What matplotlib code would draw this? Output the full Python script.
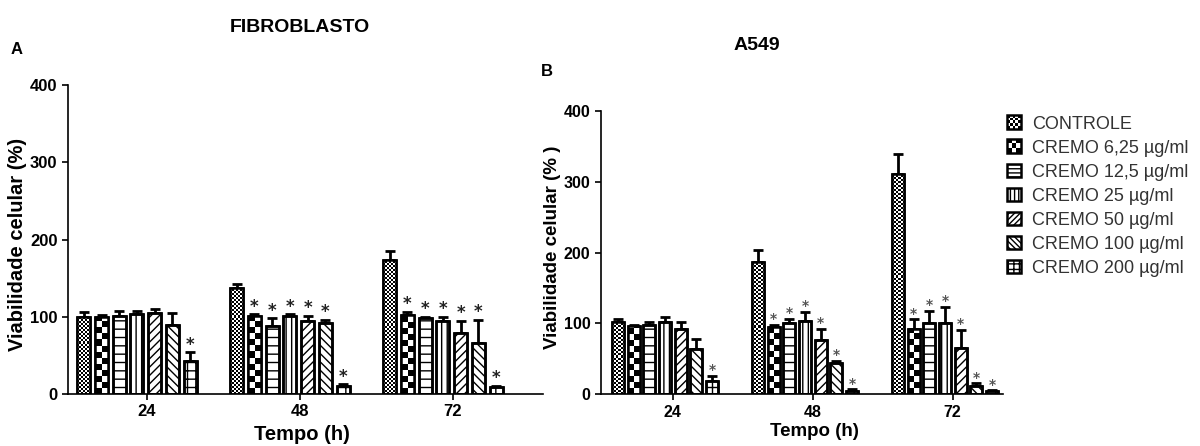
import numpy as np
import matplotlib
matplotlib.use('Agg')
import matplotlib.pyplot as plt
from matplotlib.patches import Patch, Rectangle

# tempos e tratamentos
times = ['24', '48', '72']
labels = ['CONTROLE', 'CREMO 6,25 µg/ml', 'CREMO 12,5 µg/ml', 'CREMO 25 µg/ml',
          'CREMO 50 µg/ml', 'CREMO 100 µg/ml', 'CREMO 200 µg/ml']

# FIBROBLASTO: media e erro (linha = tratamento, coluna = tempo)
fib_mean = [[100, 137.6, 173.5],
            [100, 101, 102],
            [101, 88, 98],
            [104, 101, 94.5],
            [105, 94.5, 79.4],
            [89, 91.5, 66.4],
            [43, 11, 8.6]]
fib_err = [[6.5, 4.4, 11.5],
           [2, 2, 4.5],
           [6, 10, 2],
           [4, 2, 5.5],
           [5, 6.5, 15],
           [16, 4.5, 30],
           [11, 1.5, 1.7]]

# A549
a549_mean = [[101.7, 186.4, 310.7],
             [97, 94.6, 92.2],
             [98, 101, 100.3],
             [101.7, 103.5, 100.3],
             [92.2, 76.7, 65.8],
             [64, 43.8, 11.7],
             [18.8, 5, 4.7]]
a549_err = [[4.3, 17.4, 28.3],
            [1, 3.2, 13.8],
            [3.7, 6, 17.3],
            [7.9, 13.2, 23.4],
            [9.5, 15.5, 25],
            [14, 3.2, 3.8],
            [7.5, 2, 0.8]]

# asteriscos (significancia)
stars = [[False, False, False],
         [False, True, True],
         [False, True, True],
         [False, True, True],
         [False, True, True],
         [False, True, True],
         [True, True, True]]

hatches = [None, None, '--', '|||', '////', '\\\\\\\\', '++']
checker_px = {0: 2, 1: 6}
plt.rcParams['hatch.linewidth'] = 1.0

font = 'Liberation Sans'


def draw_panel(ax, means, errs, xlim, pitch, width, tick_shift, tick_size, star_size, star_color):
    ax.set_xlim(*xlim)
    ax.set_ylim(0, 400)
    bb = ax.get_window_extent()
    xpp = (xlim[1] - xlim[0]) / bb.width
    ypp = 400 / bb.height
    x = np.arange(len(times))
    for i in range(len(labels)):
        pos = x + (i - 3) * pitch
        m = np.array(means[i], dtype=float)
        e = np.array(errs[i], dtype=float)
        ax.errorbar(pos, m, yerr=[np.zeros_like(e), e], fmt='none', ecolor='black',
                    elinewidth=2, capsize=3.5, capthick=2, zorder=1)
        bars = ax.bar(pos, m, width, color='white', edgecolor='black', linewidth=1.8,
                      hatch=hatches[i], zorder=2)
        if i in checker_px:
            cw = checker_px[i] * xpp
            ch = checker_px[i] * ypp
            for r in bars:
                ncol = max(1, int(round(r.get_width() / cw)))
                nrow = int(np.ceil(r.get_height() / ch))
                grid = np.add.outer(np.arange(nrow), np.arange(ncol)) % 2
                im = ax.imshow(grid, cmap='gray', origin='lower', aspect='auto',
                               interpolation='nearest',
                               extent=[r.get_x(), r.get_x() + r.get_width(), 0, nrow * ch],
                               zorder=2.5)
                im.set_clip_path(r)
        ax.bar(pos, m, width, fill=False, edgecolor='black', linewidth=1.8, zorder=3)
        for j in range(len(times)):
            if stars[i][j]:
                ax.annotate('*', (pos[j], m[j] + e[j]), xytext=(0, -1), textcoords='offset points',
                            ha='center', va='bottom', fontsize=star_size, color=star_color,
                            fontweight='bold')
    ax.set_xlim(*xlim)
    ax.set_ylim(0, 400)
    ax.set_xticks(x + tick_shift)
    ax.set_xticklabels(times)
    ax.set_yticks([0, 100, 200, 300, 400])
    for s in ['top', 'right']:
        ax.spines[s].set_visible(False)
    for s in ['left', 'bottom']:
        ax.spines[s].set_linewidth(1.2)
    ax.tick_params(length=4, width=1.2, direction='out')
    for t in ax.get_xticklabels() + ax.get_yticklabels():
        t.set_family(font)
        t.set_fontweight('bold')
        t.set_fontsize(tick_size)


fig = plt.figure(figsize=(12, 4.46), dpi=100)
ax1 = fig.add_axes([68 / 1200, 1 - 394 / 446, 475 / 1200, 309 / 446])
ax2 = fig.add_axes([601 / 1200, 1 - 394.3 / 446, 402 / 1200, 283.3 / 446])

draw_panel(ax1, fib_mean, fib_err, (-0.451, 2.654), 0.116, 0.085, 0.065, 12, 12, '#222222')
draw_panel(ax2, a549_mean, a549_err, (-0.457, 2.414), 0.112, 0.086, 0.055, 11.5, 10, '#555555')

ax1.set_ylabel('Viabilidade celular (%)', fontsize=14.5, fontweight='bold', family=font)
ax1.yaxis.set_label_coords(-0.086, 0.485)
ax1.set_xlabel('Tempo (h)', fontsize=14.5, fontweight='bold', family=font)
ax1.xaxis.set_label_coords(0.493, -0.1)

ax2.set_ylabel('Viabilidade celular (% )', fontsize=13.5, fontweight='bold', family=font)
ax2.yaxis.set_label_coords(-0.1, 0.52)
ax2.set_xlabel('Tempo (h)', fontsize=13.5, fontweight='bold', family=font)
ax2.xaxis.set_label_coords(0.53, -0.1)

fig.text(300 / 1200, 1 - 28 / 446, 'FIBROBLASTO', ha='center', va='center',
         fontsize=14, fontweight='bold', family=font)
fig.text(757 / 1200, 1 - 45 / 446, 'A549', ha='center', va='center',
         fontsize=14, fontweight='bold', family=font)
fig.text(17 / 1200, 1 - 50 / 446, 'A', ha='center', va='center',
         fontsize=12, fontweight='bold', family=font)
fig.text(547 / 1200, 1 - 72 / 446, 'B', ha='center', va='center',
         fontsize=12, fontweight='bold', family=font)


# legenda com quadrados xadrez
class CheckerHandler:
    def __init__(self, n):
        self.n = n

    def legend_artist(self, legend, orig_handle, fontsize, handlebox):
        x0, y0 = handlebox.xdescent, handlebox.ydescent
        w, h = handlebox.width, handlebox.height
        tr = handlebox.get_transform()
        cw, ch = w / self.n, h / self.n
        for a in range(self.n):
            for b in range(self.n):
                if (a + b) % 2 == 0:
                    handlebox.add_artist(Rectangle((x0 + a * cw, y0 + b * ch), cw, ch,
                                                   fc='black', ec='none', transform=tr))
        border = Rectangle((x0, y0), w, h, fc='none', ec='black', lw=1.8, transform=tr)
        handlebox.add_artist(border)
        return border


leg_hatch = [None, None, '----', '||||', '//////', '\\\\\\\\\\\\', '+++']
handles = []
handler_map = {}
for i, name in enumerate(labels):
    p = Patch(facecolor='white', edgecolor='black', linewidth=1.8, hatch=leg_hatch[i], label=name)
    handles.append(p)
    if i == 0:
        handler_map[p] = CheckerHandler(5)
    elif i == 1:
        handler_map[p] = CheckerHandler(3)

leg = fig.legend(handles=handles, labels=labels, handler_map=handler_map, loc='upper left',
                 bbox_to_anchor=(1007 / 1200, 1 - 116 / 446), frameon=False, borderaxespad=0,
                 borderpad=0, handlelength=0.78, handleheight=0.78, handletextpad=0.6,
                 labelspacing=0.38, prop={'family': font, 'size': 13})
for t in leg.get_texts():
    t.set_color('#333333')

fig.savefig('out.png', dpi=100)
